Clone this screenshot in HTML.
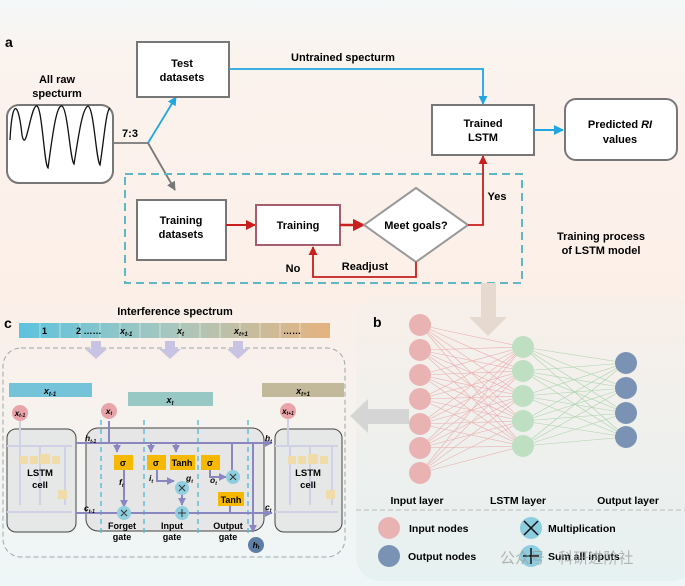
<!DOCTYPE html>
<html><head><meta charset="utf-8"><style>
html,body{margin:0;padding:0;width:685px;height:586px;overflow:hidden}
svg{display:block;font-family:"Liberation Sans",Arial,sans-serif}
</style></head><body>
<svg width="685" height="586" viewBox="0 0 685 586" xmlns="http://www.w3.org/2000/svg">
<defs>
<linearGradient id="bg" x1="0" y1="0" x2="0" y2="1">
<stop offset="0" stop-color="#f4f8f8"/><stop offset="0.1" stop-color="#fbf3ee"/><stop offset="0.5" stop-color="#fcefe8"/><stop offset="1" stop-color="#eef6f7"/></linearGradient>
<linearGradient id="bar" x1="0" x2="1"><stop offset="0" stop-color="#5cc3de"/><stop offset="0.5" stop-color="#a9c7bd"/><stop offset="1" stop-color="#e5b27e"/></linearGradient>
<linearGradient id="bregion" x1="0" y1="0" x2="0" y2="1"><stop offset="0" stop-color="#f8efe9"/><stop offset="1" stop-color="#e6f1f1"/></linearGradient>
<marker id="ab" viewBox="0 0 10 10" refX="9" refY="5" markerWidth="5" markerHeight="5" orient="auto"><path d="M0,0L10,5L0,10z" fill="#1fa6e0"/></marker>
<marker id="ag" viewBox="0 0 10 10" refX="9" refY="5" markerWidth="5" markerHeight="5" orient="auto"><path d="M0,0L10,5L0,10z" fill="#777"/></marker>
<marker id="ar" viewBox="0 0 10 10" refX="9" refY="5" markerWidth="5" markerHeight="5" orient="auto"><path d="M0,0L10,5L0,10z" fill="#c81e1e"/></marker>
<marker id="ap" viewBox="0 0 10 10" refX="9" refY="5" markerWidth="4" markerHeight="4" orient="auto"><path d="M0,0L10,5L0,10z" fill="#8a86c0"/></marker>
</defs>
<rect width="685" height="586" fill="url(#bg)"/>

<!-- a -->
<text x="5" y="47" font-size="14" font-weight="bold">a</text>
<text x="57" y="83" font-size="11" font-weight="bold" text-anchor="middle">All raw</text>
<text x="57" y="97" font-size="11" font-weight="bold" text-anchor="middle">specturm</text>
<rect x="7" y="105" width="106" height="78" rx="12" fill="#fff" stroke="#777" stroke-width="2"/>
<path d="M10,140 C12,100 18,98 22,135 C26,155 30,110 36,106 C42,102 44,165 48,168 C52,140 56,104 62,106 C68,110 70,160 74,164 C78,140 82,108 88,106 C94,108 96,160 100,165 C104,140 106,110 110,108" fill="none" stroke="#111" stroke-width="1.3"/>
<text x="130" y="137" font-size="11" font-weight="bold" text-anchor="middle">7:3</text>
<path d="M113,143 H148" stroke="#777" stroke-width="1.8" fill="none"/>
<path d="M148,143 L176,97" stroke="#1fa6e0" stroke-width="1.8" fill="none" marker-end="url(#ab)"/>
<path d="M148,143 L175,190" stroke="#777" stroke-width="1.8" fill="none" marker-end="url(#ag)"/>
<rect x="137" y="42" width="92" height="55" fill="#fff" stroke="#777" stroke-width="2"/>
<text x="182" y="67" font-size="11" font-weight="bold" text-anchor="middle">Test</text>
<text x="182" y="81" font-size="11" font-weight="bold" text-anchor="middle">datasets</text>
<text x="343" y="61" font-size="11" font-weight="bold" text-anchor="middle">Untrained specturm</text>
<path d="M229,69 H483 V104" stroke="#1fa6e0" stroke-width="1.8" fill="none" marker-end="url(#ab)"/>
<rect x="432" y="105" width="102" height="50" fill="#fff" stroke="#777" stroke-width="2"/>
<text x="483" y="127" font-size="11" font-weight="bold" text-anchor="middle">Trained</text>
<text x="483" y="141" font-size="11" font-weight="bold" text-anchor="middle">LSTM</text>
<path d="M534,130 H563" stroke="#1fa6e0" stroke-width="2" fill="none" marker-end="url(#ab)"/>
<rect x="565" y="99" width="112" height="61" rx="11" fill="#fff" stroke="#777" stroke-width="2"/>
<text x="620" y="128" font-size="11" font-weight="bold" text-anchor="middle">Predicted <tspan font-style="italic">RI</tspan></text>
<text x="620" y="143" font-size="11" font-weight="bold" text-anchor="middle">values</text>
<rect x="125" y="174" width="397" height="109" fill="none" stroke="#5fb8c4" stroke-width="2" stroke-dasharray="8,5"/>
<rect x="137" y="200" width="89" height="60" fill="#fff" stroke="#777" stroke-width="2"/>
<text x="181" y="224" font-size="11" font-weight="bold" text-anchor="middle">Training</text>
<text x="181" y="238" font-size="11" font-weight="bold" text-anchor="middle">datasets</text>
<path d="M226,225 H255" stroke="#c81e1e" stroke-width="2" fill="none" marker-end="url(#ar)"/>
<rect x="256" y="205" width="84" height="40" fill="#fff" stroke="#a45e6e" stroke-width="2"/>
<text x="298" y="229" font-size="11" font-weight="bold" text-anchor="middle">Training</text>
<path d="M340,225 H364" stroke="#c81e1e" stroke-width="2.5" fill="none" marker-end="url(#ar)"/>
<polygon points="416,188 468,225 416,262 364,225" fill="#fff" stroke="#999" stroke-width="2"/>
<text x="416" y="229" font-size="11" font-weight="bold" text-anchor="middle">Meet goals?</text>
<path d="M468,225 H483 V156" stroke="#c81e1e" stroke-width="1.8" fill="none" marker-end="url(#ar)"/>
<text x="497" y="200" font-size="11" font-weight="bold" text-anchor="middle">Yes</text>
<path d="M416,262 V277 H313 V247" stroke="#c81e1e" stroke-width="1.8" fill="none" marker-end="url(#ar)"/>
<text x="293" y="272" font-size="11" font-weight="bold" text-anchor="middle">No</text>
<text x="365" y="270" font-size="11" font-weight="bold" text-anchor="middle">Readjust</text>
<text x="601" y="240" font-size="11" font-weight="bold" text-anchor="middle">Training process</text>
<text x="601" y="254" font-size="11" font-weight="bold" text-anchor="middle">of LSTM model</text>

<!-- b -->
<rect x="356" y="296" width="340" height="285" rx="24" fill="url(#bregion)"/>
<path d="M481,283 H496 V317 H507 L488,336 L469,317 H481 Z" fill="#e6d9cf"/>
<path d="M409,409 V424 H368 V433 L350,416 L368,399 V409 Z" fill="#d5d5d5"/>
<text x="373" y="327" font-size="14" font-weight="bold">b</text>
<g stroke="#eaa7a7" stroke-width="0.6" opacity="0.9">
<path d="M420,325L523,347M420,325L523,371M420,325L523,396M420,325L523,421M420,325L523,446
M420,350L523,347M420,350L523,371M420,350L523,396M420,350L523,421M420,350L523,446
M420,375L523,347M420,375L523,371M420,375L523,396M420,375L523,421M420,375L523,446
M420,399L523,347M420,399L523,371M420,399L523,396M420,399L523,421M420,399L523,446
M420,424L523,347M420,424L523,371M420,424L523,396M420,424L523,421M420,424L523,446
M420,448L523,347M420,448L523,371M420,448L523,396M420,448L523,421M420,448L523,446
M420,473L523,347M420,473L523,371M420,473L523,396M420,473L523,421M420,473L523,446"/>
</g>
<g stroke="#a9d3ac" stroke-width="0.6">
<path d="M523,347L626,363M523,347L626,388M523,347L626,413M523,347L626,437
M523,371L626,363M523,371L626,388M523,371L626,413M523,371L626,437
M523,396L626,363M523,396L626,388M523,396L626,413M523,396L626,437
M523,421L626,363M523,421L626,388M523,421L626,413M523,421L626,437
M523,446L626,363M523,446L626,388M523,446L626,413M523,446L626,437"/>
</g>
<g fill="#eab3b3"><circle cx="420" cy="325" r="11"/><circle cx="420" cy="350" r="11"/><circle cx="420" cy="375" r="11"/><circle cx="420" cy="399" r="11"/><circle cx="420" cy="424" r="11"/><circle cx="420" cy="448" r="11"/><circle cx="420" cy="473" r="11"/></g>
<g fill="#bfdfc3"><circle cx="523" cy="347" r="11"/><circle cx="523" cy="371" r="11"/><circle cx="523" cy="396" r="11"/><circle cx="523" cy="421" r="11"/><circle cx="523" cy="446" r="11"/></g>
<g fill="#7a93b4"><circle cx="626" cy="363" r="11"/><circle cx="626" cy="388" r="11"/><circle cx="626" cy="413" r="11"/><circle cx="626" cy="437" r="11"/></g>
<text x="417" y="504" font-size="10.5" font-weight="bold" text-anchor="middle">Input layer</text>
<text x="518" y="504" font-size="10.5" font-weight="bold" text-anchor="middle">LSTM layer</text>
<text x="628" y="504" font-size="10.5" font-weight="bold" text-anchor="middle">Output layer</text>
<line x1="356" y1="510" x2="685" y2="510" stroke="#bbb" stroke-dasharray="5,3"/>
<circle cx="389" cy="528" r="11" fill="#eab3b3"/>
<text x="409" y="532" font-size="10.5" font-weight="bold">Input nodes</text>
<circle cx="389" cy="556" r="11" fill="#7a93b4"/>
<text x="408" y="560" font-size="10.5" font-weight="bold">Output nodes</text>
<circle cx="531" cy="528" r="11" fill="#8ccde0"/>
<path d="M524,521L538,535M538,521L524,535" stroke="#111" stroke-width="1.5"/>
<text x="548" y="532" font-size="10.5" font-weight="bold">Multiplication</text>
<circle cx="531" cy="556" r="11" fill="#8ccde0"/>
<path d="M531,548V564M523,556H539" stroke="#111" stroke-width="1.5"/>
<text x="548" y="560" font-size="10.5" font-weight="bold">Sum all inputs</text>
<text x="500" y="563" font-size="15" fill="#999" opacity="0.7" font-family="'Liberation Sans','Noto Sans CJK SC',sans-serif">公众号 · 科研进阶社</text>

<!-- c -->
<text x="4" y="328" font-size="14" font-weight="bold">c</text>
<text x="175" y="315" font-size="11" font-weight="bold" text-anchor="middle">Interference spectrum</text>
<rect x="19" y="323" width="311" height="15" fill="url(#bar)"/>
<g stroke="#fff" stroke-width="0.8" opacity="0.6"><path d="M40,323v15M60,323v15M80,323v15M100,323v15M120,323v15M140,323v15M160,323v15M180,323v15M200,323v15M220,323v15M240,323v15M260,323v15M280,323v15M300,323v15"/></g>
<g font-size="9" font-weight="bold"><text x="42" y="334">1</text><text x="76" y="334">2  ……</text><text x="120" y="334" font-style="italic">x<tspan font-size="6" dy="2">t-1</tspan></text><text x="177" y="334" font-style="italic">x<tspan font-size="6" dy="2">t</tspan></text><text x="234" y="334" font-style="italic">x<tspan font-size="6" dy="2">t+1</tspan></text><text x="283" y="334">……</text></g>
<rect x="3" y="348" width="342" height="209" rx="18" fill="none" stroke="#9aa" stroke-dasharray="5,3"/>
<g fill="#c8c3e3"><path d="M91,341h10v8h6l-11,10l-11,-10h6z"/><path d="M165,341h10v8h6l-11,10l-11,-10h6z"/><path d="M233,341h10v8h6l-11,10l-11,-10h6z"/></g>
<rect x="9" y="383" width="83" height="14" fill="#74c3d8"/>
<text x="50" y="394" font-size="9" font-weight="bold" font-style="italic" text-anchor="middle">x<tspan font-size="6" dy="2">t-1</tspan></text>
<rect x="128" y="392" width="85" height="14" fill="#97c8c4"/>
<text x="170" y="403" font-size="9" font-weight="bold" font-style="italic" text-anchor="middle">x<tspan font-size="6" dy="2">t</tspan></text>
<rect x="262" y="383" width="82" height="14" fill="#c2b99a"/>
<text x="303" y="394" font-size="9" font-weight="bold" font-style="italic" text-anchor="middle">x<tspan font-size="6" dy="2">t+1</tspan></text>
<!-- left cell -->
<rect x="7" y="429" width="69" height="103" rx="9" fill="#e6e7e7" stroke="#444" stroke-width="1"/>
<circle cx="20" cy="413" r="8" fill="#e8a4a8"/><text x="20" y="416" font-size="8" font-weight="bold" font-style="italic" text-anchor="middle">x<tspan font-size="5" dy="1">t-1</tspan></text>
<g stroke="#d0d0e6" stroke-width="2" fill="none"><path d="M20,421V446M7,446H72M7,512H72M20,446V505M40,446V505M65,446V505"/></g>
<g fill="#f0dca8"><rect x="20" y="456" width="8" height="8"/><rect x="30" y="456" width="8" height="8"/><rect x="40" y="454" width="10" height="10"/><rect x="52" y="456" width="8" height="8"/><rect x="58" y="490" width="9" height="9"/></g>
<text x="40" y="476" font-size="9.5" font-weight="bold" text-anchor="middle">LSTM</text>
<text x="40" y="488" font-size="9.5" font-weight="bold" text-anchor="middle">cell</text>
<!-- right cell -->
<rect x="275" y="429" width="67" height="103" rx="9" fill="#e6e7e7" stroke="#444" stroke-width="1"/>
<circle cx="288" cy="411" r="8" fill="#e8a4a8"/><text x="288" y="414" font-size="8" font-weight="bold" font-style="italic" text-anchor="middle">x<tspan font-size="5" dy="1">t+1</tspan></text>
<g stroke="#d0d0e6" stroke-width="2" fill="none"><path d="M288,419V446M275,446H338M275,512H338M290,446V505M310,446V505M332,446V505"/></g>
<g fill="#f0dca8"><rect x="288" y="456" width="8" height="8"/><rect x="298" y="456" width="8" height="8"/><rect x="308" y="454" width="10" height="10"/><rect x="320" y="456" width="8" height="8"/><rect x="326" y="490" width="9" height="9"/></g>
<text x="308" y="476" font-size="9.5" font-weight="bold" text-anchor="middle">LSTM</text>
<text x="308" y="488" font-size="9.5" font-weight="bold" text-anchor="middle">cell</text>
<!-- center cell -->
<rect x="86" y="428" width="178" height="103" rx="12" fill="#e6e6e6" stroke="#444" stroke-width="1"/>
<g stroke="#5bbfd6" stroke-width="1.5" stroke-dasharray="5,4"><path d="M101,420V537M144,420V537M198,420V537M248,420V537"/></g>
<g stroke="#8a86c0" stroke-width="2" fill="none">
<path d="M76,443H272" marker-end="url(#ap)"/>
<path d="M109,421V443"/>
<path d="M117,443V452" marker-end="url(#ap)"/>
<path d="M151,443V452" marker-end="url(#ap)"/>
<path d="M176,443V452" marker-end="url(#ap)"/>
<path d="M124,470V507" marker-end="url(#ap)"/>
<path d="M157,470V481H174" marker-end="url(#ap)"/>
<path d="M182,495V505" marker-end="url(#ap)"/>
<path d="M210,470V477H226" marker-end="url(#ap)"/>
<path d="M76,513H272" marker-end="url(#ap)"/>
<path d="M230,513V497"/><path d="M232,443V470"/>
<path d="M253,443V532" marker-end="url(#ap)"/>
</g>
<circle cx="109" cy="411" r="8" fill="#e8a4a8"/><text x="109" y="414" font-size="8.5" font-weight="bold" font-style="italic" text-anchor="middle">x<tspan font-size="5" dy="1">t</tspan></text>
<g fill="#f6b800"><rect x="114" y="455" width="19" height="15"/><rect x="147" y="455" width="19" height="15"/><rect x="170" y="455" width="25" height="15"/><rect x="201" y="455" width="19" height="15"/><rect x="218" y="492" width="26" height="14"/></g>
<g font-size="9" font-weight="bold" text-anchor="middle"><text x="123" y="466">σ</text><text x="156" y="466">σ</text><text x="182" y="466">Tanh</text><text x="210" y="466">σ</text><text x="231" y="503">Tanh</text></g>
<g fill="#8fcfe0"><circle cx="124" cy="513" r="7"/><circle cx="182" cy="488" r="7"/><circle cx="182" cy="513" r="7"/><circle cx="233" cy="477" r="7"/></g>
<g stroke="#333" stroke-width="1"><path d="M121,510l6,6M127,510l-6,6M179,485l6,6M185,485l-6,6M230,474l6,6M236,474l-6,6M182,509v8M178,513h8"/></g>
<g font-size="8.5" font-weight="bold" font-style="italic"><text x="85" y="441">h<tspan font-size="5" dy="2">t-1</tspan></text><text x="84" y="511">c<tspan font-size="5" dy="2">t-1</tspan></text><text x="119" y="485">f<tspan font-size="5" dy="2">t</tspan></text><text x="149" y="481">i<tspan font-size="5" dy="2">t</tspan></text><text x="186" y="481">g<tspan font-size="5" dy="2">t</tspan></text><text x="210" y="483">o<tspan font-size="5" dy="2">t</tspan></text><text x="265" y="441">h<tspan font-size="5" dy="2">t</tspan></text><text x="265" y="510">c<tspan font-size="5" dy="2">t</tspan></text></g>
<g font-size="9" font-weight="bold" text-anchor="middle"><text x="122" y="529">Forget</text><text x="122" y="540">gate</text><text x="172" y="529">Input</text><text x="172" y="540">gate</text><text x="228" y="529">Output</text><text x="228" y="540">gate</text></g>
<circle cx="256" cy="545" r="8" fill="#5e7ea6"/><text x="256" y="548" font-size="8.5" font-weight="bold" font-style="italic" text-anchor="middle">h<tspan font-size="5" dy="1">t</tspan></text>
</svg>
</body></html>
